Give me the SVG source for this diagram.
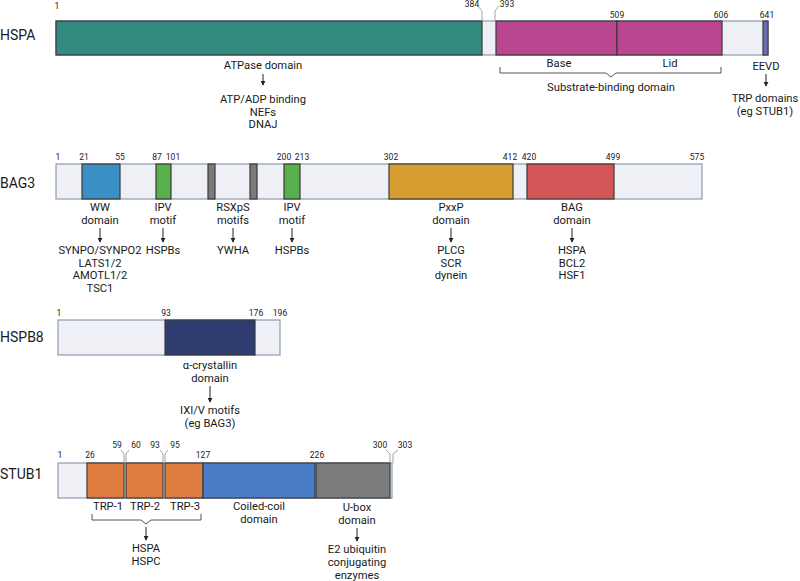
<svg xmlns="http://www.w3.org/2000/svg" width="800" height="581" viewBox="0 0 800 581">
<defs>
<style>
text{font-family:Roboto,"Liberation Sans",sans-serif;fill:#1a1a1a}
.name{font-size:14px}
.lbl{font-size:11.2px;text-anchor:middle}
.num{font-size:8.5px;text-anchor:middle}
.bg{fill:#eef0f6;stroke:#8d9bb0;stroke-width:1.2}
.dom{stroke:#3a3a3a;stroke-width:1.2}
.ld{fill:none;stroke:#999;stroke-width:0.9}
.arr{stroke:#222;stroke-width:1;fill:none;marker-end:url(#ah)}
.br{fill:none;stroke:#555;stroke-width:1}
</style>
<marker id="ah" viewBox="0 0 6 6" refX="5" refY="3" markerWidth="5" markerHeight="5" orient="auto"><path d="M0,0 L6,3 L0,6 z" fill="#222"/></marker>
</defs>

<g id="HSPA">
<text class="name" x="0" y="40">HSPA</text>
<rect class="bg" x="56" y="21" width="712" height="34"/>
<rect class="dom" x="56" y="21" width="426" height="34" fill="#338b80"/>
<rect class="dom" x="496" y="21" width="121" height="34" fill="#b9468f" stroke="#7a2a5e"/>
<rect class="dom" x="617" y="21" width="105" height="34" fill="#b9468f" stroke="#7a2a5e"/>
<rect class="dom" x="763" y="21" width="5" height="34" fill="#6e6bb5" stroke="#3e3c7a"/>
<text class="num" x="57" y="9">1</text>
<text class="num" x="472" y="7">384</text>
<text class="num" x="507" y="7">393</text>
<text class="num" x="617" y="18">509</text>
<text class="num" x="721" y="18">606</text>
<text class="num" x="767" y="18">641</text>
<path class="ld" d="M478,6 L482,11 L482,21"/>
<path class="ld" d="M499,6 L495,11 L495,21"/>
<text class="lbl" x="263" y="69">ATPase domain</text>
<text class="lbl" x="263" y="103">ATP/ADP binding</text>
<text class="lbl" x="263" y="115.5">NEFs</text>
<text class="lbl" x="263" y="128">DNAJ</text>
<text class="lbl" x="559" y="67">Base</text>
<text class="lbl" x="670" y="67">Lid</text>
<text class="lbl" x="611" y="91">Substrate-binding domain</text>
<text class="lbl" x="766" y="70">EEVD</text>
<text class="lbl" x="765" y="102">TRP domains</text>
<text class="lbl" x="765" y="115">(eg STUB1)</text>
</g>

<g id="BAG3">
<text class="name" x="0" y="188">BAG3</text>
<rect class="bg" x="56" y="164" width="646" height="35"/>
<rect class="dom" x="82" y="164" width="38" height="35" fill="#3a8fc4"/>
<rect class="dom" x="156" y="164" width="15" height="35" fill="#57b04b"/>
<rect class="dom" x="208" y="164" width="7" height="35" fill="#7b7b7b"/>
<rect class="dom" x="250" y="164" width="7" height="35" fill="#7b7b7b"/>
<rect class="dom" x="284" y="164" width="16" height="35" fill="#57b04b"/>
<rect class="dom" x="389" y="164" width="124" height="35" fill="#d79d31" stroke="#7a5a1a"/>
<rect class="dom" x="527" y="164" width="87" height="35" fill="#d35557" stroke="#7a2a2a"/>
<text class="num" x="58" y="160">1</text>
<text class="num" x="84" y="160">21</text>
<text class="num" x="120" y="160">55</text>
<text class="num" x="157" y="160">87</text>
<text class="num" x="173" y="160">101</text>
<text class="num" x="284" y="160">200</text>
<text class="num" x="302" y="160">213</text>
<text class="num" x="391" y="160">302</text>
<text class="num" x="510" y="160">412</text>
<text class="num" x="529" y="160">420</text>
<text class="num" x="613" y="160">499</text>
<text class="num" x="697" y="160">575</text>
<text class="lbl" x="100" y="211">WW</text>
<text class="lbl" x="100" y="223.5">domain</text>
<text class="lbl" x="100" y="254">SYNPO/SYNPO2</text>
<text class="lbl" x="100" y="266.5">LATS1/2</text>
<text class="lbl" x="100" y="279">AMOTL1/2</text>
<text class="lbl" x="100" y="291.5">TSC1</text>
<text class="lbl" x="163" y="211">IPV</text>
<text class="lbl" x="163" y="223.5">motif</text>
<text class="lbl" x="163" y="254">HSPBs</text>
<text class="lbl" x="233" y="211">RSXpS</text>
<text class="lbl" x="233" y="223.5">motifs</text>
<text class="lbl" x="233" y="254">YWHA</text>
<text class="lbl" x="292" y="211">IPV</text>
<text class="lbl" x="292" y="223.5">motif</text>
<text class="lbl" x="292" y="254">HSPBs</text>
<text class="lbl" x="451" y="211">PxxP</text>
<text class="lbl" x="451" y="223.5">domain</text>
<text class="lbl" x="451" y="254">PLCG</text>
<text class="lbl" x="451" y="266.5">SCR</text>
<text class="lbl" x="451" y="279">dynein</text>
<text class="lbl" x="572" y="211">BAG</text>
<text class="lbl" x="572" y="223.5">domain</text>
<text class="lbl" x="572" y="254">HSPA</text>
<text class="lbl" x="572" y="266.5">BCL2</text>
<text class="lbl" x="572" y="279">HSF1</text>
</g>

<g id="HSPB8">
<text class="name" x="0" y="342">HSPB8</text>
<rect class="bg" x="58" y="320" width="222" height="35"/>
<rect class="dom" x="165" y="320" width="90" height="35" fill="#2e3c70" stroke="#1a2040"/>
<text class="num" x="59" y="316">1</text>
<text class="num" x="166" y="316">93</text>
<text class="num" x="256" y="316">176</text>
<text class="num" x="280" y="316">196</text>
<text class="lbl" x="210" y="369">α-crystallin</text>
<text class="lbl" x="210" y="381.5">domain</text>
<text class="lbl" x="210" y="414">IXI/V motifs</text>
<text class="lbl" x="210" y="426.5">(eg BAG3)</text>
</g>

<g id="STUB1">
<text class="name" x="0" y="479">STUB1</text>
<rect class="bg" x="58" y="463" width="334" height="35"/>
<rect class="dom" x="87" y="463" width="37" height="35" fill="#de7d3f" stroke="#7a3e18"/>
<rect class="dom" x="126" y="463" width="37" height="35" fill="#de7d3f" stroke="#7a3e18"/>
<rect class="dom" x="165" y="463" width="38" height="35" fill="#de7d3f" stroke="#7a3e18"/>
<rect class="dom" x="203" y="463" width="112" height="35" fill="#4a7dc7" stroke="#23406e"/>
<rect class="dom" x="316" y="463" width="74" height="35" fill="#7b7d7d" stroke="#222"/>
<text class="num" x="60" y="458">1</text>
<text class="num" x="90" y="458">26</text>
<text class="num" x="203" y="458">127</text>
<text class="num" x="317" y="458">226</text>
<text class="num" x="117" y="448">59</text>
<text class="num" x="136" y="448">60</text>
<text class="num" x="155" y="448">93</text>
<text class="num" x="175" y="448">95</text>
<text class="num" x="380" y="448">300</text>
<text class="num" x="405" y="448">303</text>
<path class="ld" d="M121,450 L124,454 L124,463"/>
<path class="ld" d="M129,450 L126,454 L126,463"/>
<path class="ld" d="M160,450 L163,454 L163,463"/>
<path class="ld" d="M168,450 L165,454 L165,463"/>
<path class="ld" d="M386,450 L390,454 L390,463"/>
<path class="ld" d="M398,450 L393,454 L393,463"/>
<text class="lbl" x="108" y="510">TRP-1</text>
<text class="lbl" x="145" y="510">TRP-2</text>
<text class="lbl" x="185" y="510">TRP-3</text>
<text class="lbl" x="259" y="510">Coiled-coil</text>
<text class="lbl" x="259" y="523">domain</text>
<text class="lbl" x="357" y="511">U-box</text>
<text class="lbl" x="357" y="523.5">domain</text>
<text class="lbl" x="146" y="552">HSPA</text>
<text class="lbl" x="146" y="565">HSPC</text>
<text class="lbl" x="357" y="553">E2 ubiquitin</text>
<text class="lbl" x="357" y="566">conjugating</text>
<text class="lbl" x="357" y="578.5">enzymes</text>
</g>

<g id="connectors">
<path class="arr" d="M263,74 V85"/>
<path class="arr" d="M766,74 V86"/>
<path class="br" d="M500,67 V73 H606 L611,77 L616,73 H721 V67"/>
<path class="arr" d="M100,228 V242"/>
<path class="arr" d="M163,228 V242"/>
<path class="arr" d="M233,228 V242"/>
<path class="arr" d="M292,228 V242"/>
<path class="arr" d="M451,228 V242"/>
<path class="arr" d="M572,228 V242"/>
<path class="arr" d="M210,386 V402"/>
<path class="br" d="M92,514 V520 H141 L146,524 L151,520 H201 V514"/>
<path class="arr" d="M146,527 V540"/>
<path class="arr" d="M357,528 V541"/>
</g>
</svg>
